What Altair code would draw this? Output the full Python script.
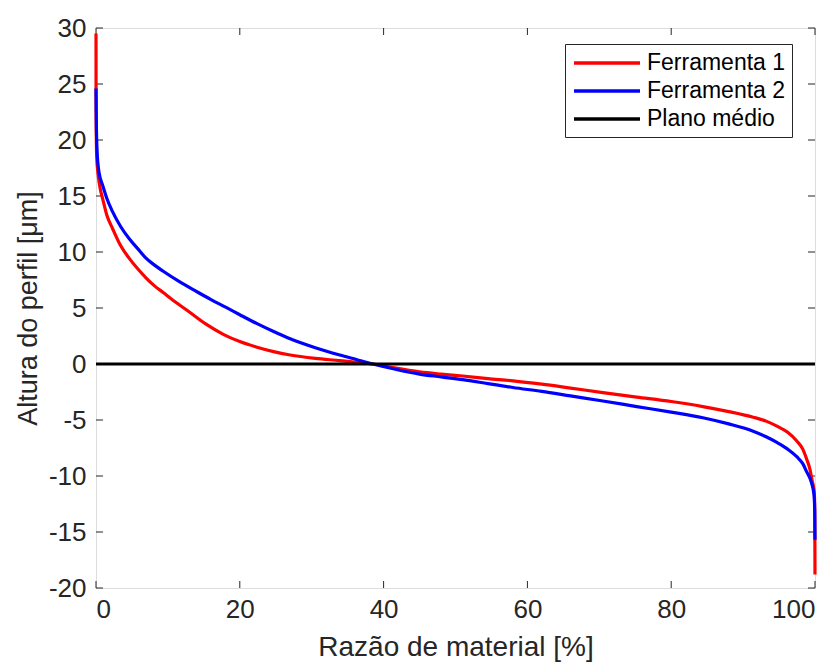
import altair as alt
import pandas as pd

# Ferramenta 1 (red)
f1_x = [0, 0.01, 0.02, 0.05, 0.1, 0.2, 0.35, 0.6, 0.93, 1.5, 2.3, 3.4, 4.6, 5.8, 6.95, 8.1, 9.3,
        11.0, 12.75, 15.2, 17.7, 20, 22.4, 24.7, 27.0, 30.5, 33.9, 36.2, 38.5, 41.5, 45, 48,
        51, 54.5, 58, 62, 66, 70.5, 75.2, 80, 84.4, 88, 91.4, 93.2, 94.7, 96.2, 97.5, 98.3,
        98.9, 99.3, 99.6, 99.8, 99.9, 99.97, 100]
f1_y = [29.5, 24, 22, 20, 18.5, 17.5, 16.6, 15.6, 14.75, 13.3, 12.1, 10.6, 9.45, 8.5, 7.7, 7.0, 6.4,
        5.55, 4.75, 3.6, 2.65, 2.0, 1.5, 1.1, 0.8, 0.5, 0.3, 0.15, 0.0, -0.35, -0.7, -0.9,
        -1.07, -1.3, -1.5, -1.8, -2.15, -2.55, -2.95, -3.35, -3.8, -4.25, -4.75, -5.1, -5.55, -6.1, -6.9, -7.6,
        -8.6, -9.4, -10.4, -11.0, -11.5, -13.0, -18.8]
# Ferramenta 2 (blue)
f2_x = [0, 0.03, 0.06, 0.15, 0.25, 0.45, 0.93, 1.5, 2.3, 3.4, 4.6, 5.8, 6.95, 8.1, 9.3, 11.6,
        13.9, 16.0, 18.1, 20, 22.4, 24.7, 27.0, 30.5, 33.9, 36.2, 38.5, 41.5, 45, 48, 51, 54.5,
        58, 62, 66, 70.5, 75.2, 80, 84.4, 88, 91.4, 93.2, 94.7, 96.2, 97.5, 98.3, 98.9, 99.3,
        99.6, 99.8, 99.9, 99.97, 100]
f2_y = [24.6, 22.5, 21, 19, 18, 17.0, 15.95, 14.8, 13.6, 12.3, 11.2, 10.3, 9.45, 8.85, 8.3, 7.35,
        6.5, 5.75, 5.05, 4.4, 3.6, 2.9, 2.25, 1.45, 0.8, 0.4, 0.0, -0.45, -0.9, -1.15, -1.4, -1.75,
        -2.1, -2.45, -2.85, -3.3, -3.8, -4.3, -4.8, -5.35, -6.0, -6.5, -7.0, -7.6, -8.3, -8.9, -9.7, -10.2,
        -10.8, -11.4, -12.0, -13.5, -15.7]
# Plano médio (black)
pm_x = [0, 100]
pm_y = [0, 0]

series = ["Ferramenta 1", "Ferramenta 2", "Plano médio"]
colors = ["#ff0000", "#0000ff", "#000000"]

x_ticks = [0, 20, 40, 60, 80, 100]
y_ticks = [-20, -15, -10, -5, 0, 5, 10, 15, 20, 25, 30]

rows = []
for name, xs, ys in zip(series, [f1_x, f2_x, pm_x], [f1_y, f2_y, pm_y]):
    for i, (a, b) in enumerate(zip(xs, ys)):
        rows.append({"serie": name, "x": a, "y": b, "i": i})
df = pd.DataFrame(rows)

W, H = 719, 560
FONT = "Liberation Sans"
TXT = "#262626"

xscale = alt.Scale(domain=[0, 100], nice=False, zero=False)
yscale = alt.Scale(domain=[-20, 30], nice=False, zero=False)

lines = alt.Chart(df).mark_line(strokeWidth=3.2, interpolate="monotone").encode(
    x=alt.X("x:Q", scale=xscale,
            axis=alt.Axis(values=x_ticks, title="Razão de material [%]", grid=False,
                          domain=False, ticks=False, labelPadding=8, labelExpr="datum.value",
                          labelFontSize=26, labelColor=TXT, labelFont=FONT,
                          titleFontSize=28, titleFont=FONT, titleColor=TXT,
                          titleFontWeight="normal", titlePadding=11)),
    y=alt.Y("y:Q", scale=yscale,
            axis=alt.Axis(values=y_ticks, title="Altura do perfil [μm]", grid=False,
                          domain=False, ticks=False, labelPadding=10, labelExpr="datum.value",
                          labelFontSize=26, labelColor=TXT, labelFont=FONT,
                          titleFontSize=27, titleFont=FONT, titleColor=TXT,
                          titleFontWeight="normal", titlePadding=6)),
    color=alt.Color("serie:N", scale=alt.Scale(domain=series, range=colors),
                    legend=alt.Legend(title=None, orient="none", legendX=469, legendY=16,
                                      symbolType="M-3,0H3", symbolSize=484,
                                      symbolStrokeWidth=3.5, labelFontSize=23,
                                      labelFont=FONT, labelColor="#000000",
                                      strokeColor="#262626", fillColor="#ffffff",
                                      padding=6, rowPadding=3, labelOffset=27,
                                      symbolOffset=23)),
    detail="serie:N",
    order=alt.Order("i:Q"),
)

xt = pd.DataFrame({"v": x_ticks})
yt = pd.DataFrame({"v": y_ticks})
tick_col = TXT
xb = alt.Chart(xt).mark_rule(color=tick_col, strokeWidth=1).encode(
    x=alt.X("v:Q", scale=xscale), y=alt.value(H), y2=alt.value(H - 7))
xtop = alt.Chart(xt).mark_rule(color=tick_col, strokeWidth=1).encode(
    x=alt.X("v:Q", scale=xscale), y=alt.value(0), y2=alt.value(7))
yl = alt.Chart(yt).mark_rule(color=tick_col, strokeWidth=1).encode(
    y=alt.Y("v:Q", scale=yscale), x=alt.value(0), x2=alt.value(7))
yr = alt.Chart(yt).mark_rule(color=tick_col, strokeWidth=1).encode(
    y=alt.Y("v:Q", scale=yscale), x=alt.value(W), x2=alt.value(W - 7))

chart = alt.layer(xb, xtop, yl, yr, lines).properties(
    width=W, height=H,
    autosize=alt.AutoSizeParams(type="none"),
    padding={"left": 96, "top": 28, "right": 20, "bottom": 78},
).configure_view(stroke=TXT, strokeWidth=1.2).configure(background="#ffffff")

chart.save("out.html", embed_options={"renderer": "svg", "actions": False})
